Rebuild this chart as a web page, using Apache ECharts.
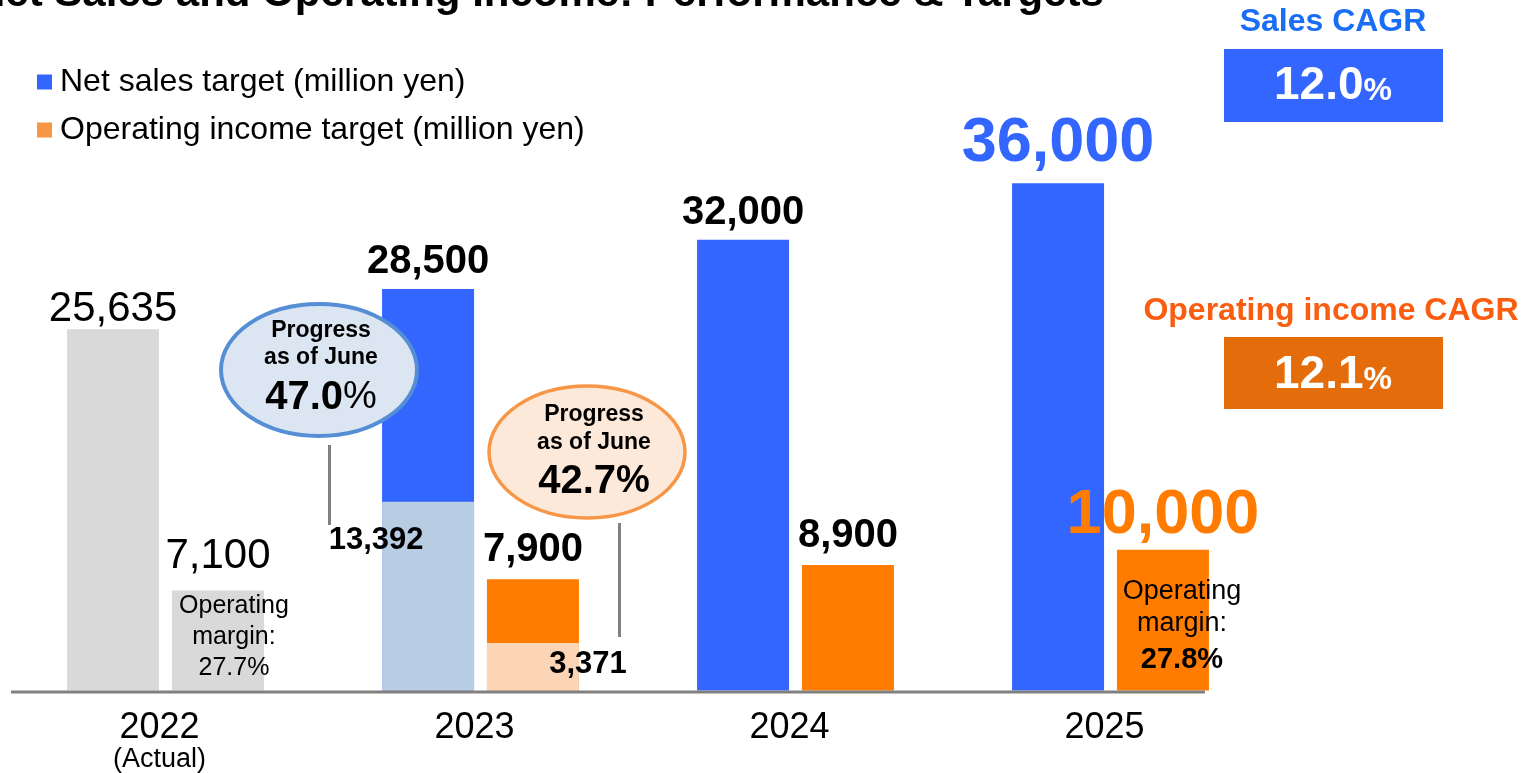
<!DOCTYPE html>
<html>
<head>
<meta charset="utf-8">
<script src="https://cdn.jsdelivr.net/npm/echarts@6/dist/echarts.min.js"></script>
<style>
  html, body { margin: 0; padding: 0; background: #ffffff; }
  #chart { width: 1526px; height: 773px; }
</style>
</head>
<body>
<div id="chart"></div>
<script>
// ---- data (million yen) ----
const years = ['2022', '2023', '2024', '2025'];
const yearNotes = ['(Actual)', '', '', ''];
const netSales = [25635, 28500, 32000, 36000];
const operatingIncome = [7100, 7900, 8900, 10000];
const salesProgress = [null, 13392, null, null];
const incomeProgress = [null, 3371, null, null];
const operatingMargin = ['27.7%', null, null, '27.8%'];
const progressRates = ['47.0', '42.7'];
const salesCagr = '12.0';
const incomeCagr = '12.1';
const legendNames = ['Net sales target (million yen)', 'Operating income target (million yen)'];

// ---- styles ----
const FONT = '"Liberation Sans", Arial, sans-serif';
const BLUE = '#3366ff';
const ORANGE = '#ff7c00';
const GREY_ACTUAL = '#d9d9d9';
const BLUE_LIGHT = '#b8cce4';
const ORANGE_LIGHT = '#fbd5b5';
const BAR_W = 92;
const BAR_GAP = '14%';

const fmt = v => Number(v).toLocaleString('en-US');
const isActual = i => yearNotes[i] !== '';
const isLast = i => i === years.length - 1;

function topLabel(i, highlight, dist) {
  if (isActual(i)) {
    return { show: true, position: 'top', fontSize: 42, fontWeight: 'normal', color: '#000', distance: dist.actual };
  }
  if (isLast(i)) {
    return { show: true, position: 'top', fontSize: 63, fontWeight: 'bold', color: highlight, distance: dist.last };
  }
  return { show: true, position: 'top', fontSize: 40, fontWeight: 'bold', color: '#000', distance: dist.plan };
}

const salesData = netSales.map((v, i) => ({
  value: v,
  itemStyle: { color: isActual(i) ? GREY_ACTUAL : BLUE },
  label: topLabel(i, BLUE, { actual: -1, last: 8, plan: 7 })
}));

const incomeData = operatingIncome.map((v, i) => ({
  value: v,
  itemStyle: { color: isActual(i) ? GREY_ACTUAL : ORANGE },
  label: topLabel(i, ORANGE, { actual: 13, last: 3, plan: 9 })
}));

// margin notes sit inside the operating income bars
const marginData = operatingIncome.map((v, i) => {
  if (!operatingMargin[i]) return null;
  const actual = isActual(i);
  return {
    value: v,
    label: {
      show: true,
      position: 'insideTop',
      offset: actual ? [16, -5] : [19, 21],
      formatter: actual
        ? '{n|Operating}\n{n|margin:}\n{n|' + operatingMargin[i] + '}'
        : '{m|Operating}\n{m|margin:}\n{b|' + operatingMargin[i] + '}',
      rich: {
        n: { fontSize: 25, lineHeight: 31, color: '#000', fontFamily: FONT },
        m: { fontSize: 27, lineHeight: 32, color: '#000', fontFamily: FONT },
        b: { fontSize: 29, lineHeight: 40, fontWeight: 'bold', color: '#000', fontFamily: FONT }
      }
    }
  };
});

const hiddenCat = () => ({
  type: 'category', data: years, gridIndex: 0, show: false, boundaryGap: true
});

const option = {
  animation: false,
  backgroundColor: '#ffffff',
  textStyle: { fontFamily: FONT },
  grid: { left: 8, right: 258, top: 127, bottom: 82, containLabel: false },
  legend: {
    orient: 'vertical',
    left: 37,
    top: 66,
    padding: 0,
    itemWidth: 15,
    itemHeight: 15,
    itemGap: 16,
    icon: 'rect',
    selectedMode: false,
    textStyle: { fontSize: 32, color: '#000', fontFamily: FONT, padding: [0, 0, 0, 3] },
    data: [
      { name: legendNames[0], itemStyle: { color: BLUE } },
      { name: legendNames[1], itemStyle: { color: '#f79646' } }
    ]
  },
  xAxis: [
    {
      type: 'category',
      data: years,
      boundaryGap: true,
      axisLine: { show: false },
      axisTick: { show: false },
      axisLabel: {
        margin: 20,
        color: '#000',
        formatter: (v, i) => yearNotes[i] ? '{y|' + v + '}\n{n|' + yearNotes[i] + '}' : '{y|' + v + '}',
        rich: {
          y: { fontSize: 36, lineHeight: 36, color: '#000', fontFamily: FONT, padding: [0, 12, 0, 0] },
          n: { fontSize: 27, lineHeight: 26, color: '#000', fontFamily: FONT, padding: [0, 12, 0, 0] }
        }
      }
    },
    hiddenCat(),
    hiddenCat()
  ],
  yAxis: { type: 'value', min: 0, max: 40000, show: false, splitLine: { show: false } },
  series: [
    { name: legendNames[0], type: 'bar', xAxisIndex: 0, barWidth: BAR_W, barGap: BAR_GAP,
      itemStyle: { color: BLUE }, data: salesData, label: { fontFamily: FONT, formatter: p => fmt(p.value) } },
    { name: legendNames[1], type: 'bar', xAxisIndex: 0, barWidth: BAR_W, barGap: BAR_GAP,
      itemStyle: { color: ORANGE }, data: incomeData, label: { fontFamily: FONT, formatter: p => fmt(p.value) } },

    // progress as of June, drawn over the 2023 targets
    { name: 'Sales progress', type: 'bar', xAxisIndex: 1, barWidth: BAR_W, barGap: BAR_GAP,
      itemStyle: { color: BLUE_LIGHT }, data: salesProgress,
      label: { show: true, position: 'insideTop', offset: [-52, 18], fontSize: 31, fontWeight: 'bold',
        color: '#000', fontFamily: FONT, formatter: p => fmt(p.value) } },
    { name: 'Income progress', type: 'bar', xAxisIndex: 1, barWidth: BAR_W, barGap: BAR_GAP,
      itemStyle: { color: ORANGE_LIGHT }, data: incomeProgress,
      label: { show: true, position: 'insideTop', offset: [55, 1], fontSize: 31, fontWeight: 'bold',
        color: '#000', fontFamily: FONT, formatter: p => fmt(p.value) } },

    // operating margin notes
    { name: 'Sales slot', type: 'bar', xAxisIndex: 2, barWidth: BAR_W, barGap: BAR_GAP,
      silent: true, data: years.map(() => null) },
    { name: 'Operating margin', type: 'bar', xAxisIndex: 2, barWidth: BAR_W, barGap: BAR_GAP,
      silent: true, itemStyle: { color: 'rgba(0,0,0,0)' }, data: marginData }
  ]
};

const chart = echarts.init(document.getElementById('chart'), null, { renderer: 'canvas' });
chart.setOption(option);

// baseline and annotations
const y0 = chart.convertToPixel({ yAxisIndex: 0 }, 0);

function centered(extra) {
  return Object.assign({ align: 'center', verticalAlign: 'middle', textAlign: 'center', textVerticalAlign: 'middle' }, extra);
}

function bubble(cx, cy, fill, stroke, lw, tx, lines, rate, pctBold) {
  return [
    { type: 'ellipse', z: 10, shape: { cx: cx, cy: cy, rx: 98, ry: 66 },
      style: { fill: fill, stroke: stroke, lineWidth: lw } },
    { type: 'text', z: 11, x: tx, y: lines[0],
      style: centered({ text: 'Progress', font: 'bold 23px ' + FONT, fill: '#000' }) },
    { type: 'text', z: 11, x: tx, y: lines[1],
      style: centered({ text: 'as of June', font: 'bold 23px ' + FONT, fill: '#000' }) },
    { type: 'text', z: 11, x: tx, y: lines[2],
      style: centered({
        text: '{d|' + rate + '}{p|%}',
        rich: {
          d: { fontSize: 40, fontWeight: 'bold', fill: '#000', fontFamily: FONT },
          p: { fontSize: 38, fontWeight: pctBold ? 'bold' : 'normal', fill: '#000', fontFamily: FONT }
        }
      }) }
  ];
}

function cagrValue(x, y, value) {
  return { type: 'text', x: x, y: y,
    style: centered({ text: '{d|' + value + '}{p|%}',
      rich: { d: { fontSize: 46, fontWeight: 'bold', fill: '#fff', fontFamily: FONT },
              p: { fontSize: 32, fontWeight: 'bold', fill: '#fff', fontFamily: FONT, padding: [10, 0, 0, 0] } } }) };
}

const graphics = [
  // title
  { type: 'text', x: -25, y: -6,
    style: { text: 'Net Sales and Operating Income: Performance & Targets', font: 'bold 42px ' + FONT,
      fill: '#000', align: 'left', verticalAlign: 'middle', textAlign: 'left', textVerticalAlign: 'middle' } },
  // category baseline
  { type: 'line', z: 5, shape: { x1: 11, y1: y0 + 1.5, x2: 1205, y2: y0 + 1.5 },
    style: { stroke: '#808080', lineWidth: 3 } },
  // leader lines
  { type: 'line', z: 5, shape: { x1: 329.5, y1: 445, x2: 329.5, y2: 525 },
    style: { stroke: '#808080', lineWidth: 3 } },
  { type: 'line', z: 5, shape: { x1: 619.5, y1: 523, x2: 619.5, y2: 637 },
    style: { stroke: '#808080', lineWidth: 3 } },
  // CAGR boxes
  { type: 'text', x: 1333, y: 22,
    style: centered({ text: 'Sales CAGR', font: 'bold 32px ' + FONT, fill: '#1a6ef5' }) },
  { type: 'rect', shape: { x: 1224, y: 49, width: 219, height: 73 }, style: { fill: BLUE } },
  cagrValue(1333, 86, salesCagr),
  { type: 'text', x: 1331, y: 311,
    style: centered({ text: 'Operating income CAGR', font: 'bold 32px ' + FONT, fill: '#fa5d0f' }) },
  { type: 'rect', shape: { x: 1224, y: 337, width: 219, height: 72 }, style: { fill: '#e46c0a' } },
  cagrValue(1333, 375, incomeCagr)
].concat(
  bubble(319, 370, '#dce6f2', '#558ed5', 4, 321, [331, 358, 398], progressRates[0], false),
  bubble(587, 452, '#fde9d9', '#f79646', 3.5, 594, [415, 443, 482], progressRates[1], true)
);

chart.setOption({ graphic: graphics });
</script>
</body>
</html>
